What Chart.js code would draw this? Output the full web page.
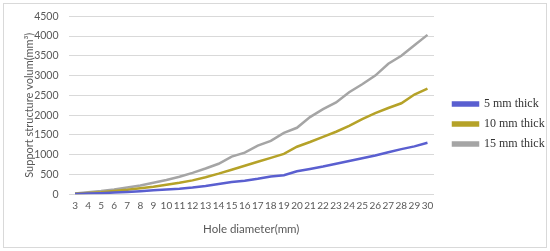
<!DOCTYPE html>
<html>
<head>
<meta charset="utf-8">
<script src="https://cdn.jsdelivr.net/npm/chart.js@4"></script>
<style>
  html, body { margin: 0; padding: 0; background: #fff; }
  #wrap { position: absolute; left: 0; top: 0; width: 550px; height: 251px; }
  #frame { position: absolute; left: 3px; top: 3px; width: 542px; height: 243px; border: 1px solid #d9d9d9; pointer-events: none; }
</style>
</head>
<body>
<div id="wrap"><canvas id="chart"></canvas></div>
<div id="frame"></div>
<script>
// Diâmetros dos furos (categorias)
const holeDiameters = ['3','4','5','6','7','8','9','10','11','12','13','14','15','16','17','18','19','20','21','22','23','24','25','26','27','28','29','30'];

// Volume de suporte por espessura
const thick5 = [5, 15, 25, 40, 55, 75, 100, 120, 140, 170, 210, 260, 310, 340, 390, 450, 480, 580, 640, 700, 770, 840, 910, 980, 1060, 1140, 1210, 1300];
const thick10 = [10, 30, 50, 80, 110, 150, 190, 240, 290, 350, 430, 520, 620, 720, 820, 920, 1020, 1200, 1320, 1450, 1580, 1730, 1900, 2050, 2180, 2300, 2520, 2670];
const thick15 = [20, 50, 80, 120, 170, 220, 290, 360, 440, 540, 650, 770, 950, 1050, 1230, 1350, 1550, 1680, 1950, 2150, 2320, 2580, 2780, 3000, 3300, 3500, 3770, 4030];

const seriesLabels = ['5 mm thick', '10 mm thick', '15 mm thick'];
const yTicks = [0, 500, 1000, 1500, 2000, 2500, 3000, 3500, 4000, 4500];

function makeSet(label, data, color) {
    return {
        label: label,
        data: data,
        borderColor: color,
        backgroundColor: color,
        borderWidth: 2.5,
        pointRadius: 0,
        tension: 0,
        fill: false
    };
}

const tickFont = { family: 'Lato', size: 10.5 };

new Chart(document.getElementById('chart').getContext('2d'), {
    type: 'line',
    data: {
        labels: holeDiameters,
        datasets: [
            makeSet(seriesLabels[0], thick5, '#5a5fd0'),
            makeSet(seriesLabels[1], thick10, '#b5a228'),
            makeSet(seriesLabels[2], thick15, '#a5a5a5')
        ]
    },
    options: {
        responsive: true,
        maintainAspectRatio: false,
        animation: false,
        layout: { padding: { left: 14, top: 7, right: 0, bottom: 10 } },
        plugins: {
            legend: {
                position: 'right',
                align: 'center',
                maxWidth: 105,
                labels: {
                    boxWidth: 25,
                    boxHeight: 3,
                    padding: 8,
                    color: '#333333',
                    font: { family: 'Liberation Serif', size: 12 }
                }
            },
            tooltip: { enabled: false }
        },
        scales: {
            x: {
                offset: true,
                grid: { display: false, drawTicks: false },
                border: { display: false },
                ticks: { color: '#595959', font: { family: 'Lato', size: 10 }, maxRotation: 0, autoSkip: false, padding: 6 },
                title: { display: true, text: 'Hole diameter(mm)', color: '#595959', font: { family: 'Lato', size: 11.5 }, padding: { top: 4, bottom: 5 } }
            },
            y: {
                min: 0,
                max: 4500,
                afterBuildTicks: function (axis) { axis.ticks = yTicks.map(v => ({ value: v })); },
                afterFit: function (axis) { axis.width = 54.5; },
                grid: { color: '#d9d9d9', lineWidth: 1, drawTicks: false },
                border: { display: false },
                ticks: { color: '#595959', font: tickFont, padding: 10, callback: v => String(v) },
                title: { display: true, text: 'Support structure volum(mm³)', color: '#595959', font: { family: 'Lato', size: 11 }, padding: { top: 9, bottom: 0 } }
            },
            // espaço entre a área do gráfico e a legenda
            gap: {
                type: 'linear',
                position: 'right',
                display: true,
                grid: { display: false, drawTicks: false },
                border: { display: false },
                ticks: { display: false },
                afterFit: function (axis) { axis.width = 11; }
            }
        }
    }
});
</script>
</body>
</html>
